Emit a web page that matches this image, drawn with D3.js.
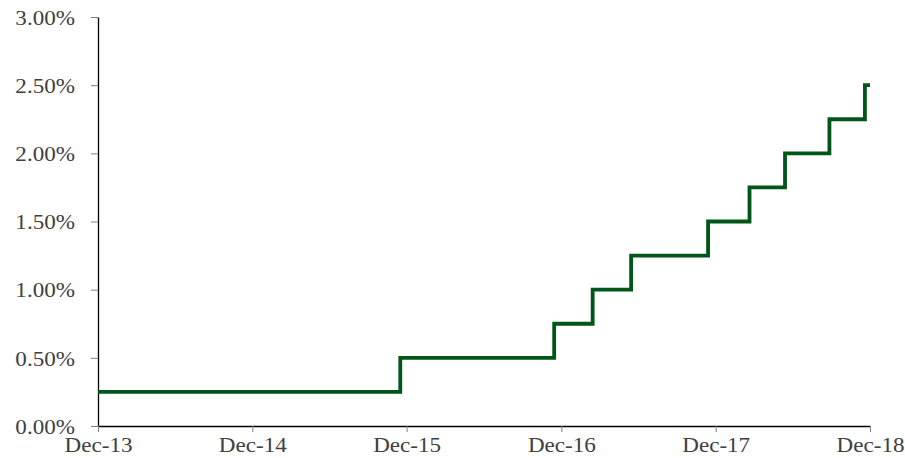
<!DOCTYPE html>
<html><head><meta charset="utf-8">
<script src="https://cdn.jsdelivr.net/npm/d3@7"></script>
<style>body{margin:0;background:#fff}svg{display:block}</style>
</head><body>
<svg id="c" width="905" height="458"></svg>
<script>
// Step-change dates and target rate (%) after each change
const changeDates = ["2013-12-31","2015-12-16","2016-12-14","2017-03-15","2017-06-14","2017-12-13","2018-03-21","2018-06-13","2018-09-26","2018-12-19","2018-12-31"];
const rates = [0.25,0.50,0.75,1.00,1.25,1.50,1.75,2.00,2.25,2.50,2.50];
const xTickDates = ["2013-12-31","2014-12-31","2015-12-31","2016-12-31","2017-12-31","2018-12-31"];
const xTickLabels = ["Dec-13","Dec-14","Dec-15","Dec-16","Dec-17","Dec-18"];
const yTicks = [0,0.5,1,1.5,2,2.5,3];

const parse = d3.utcParse("%Y-%m-%d");
const data = changeDates.map((d,i)=>({date:parse(d), v:rates[i]}));
const tickDates = xTickDates.map(parse);

const svg = d3.select("#c");
const m = {left:98, right:870, top:17, bottom:426};
const x = d3.scaleUtc().domain([tickDates[0], tickDates[tickDates.length-1]]).range([m.left, m.right]);
const y = d3.scaleLinear().domain([0,3]).range([m.bottom, m.top]);
const sx = 1.05;
const font = "'Liberation Serif','Times New Roman',serif";

const yAxis = svg.append("g").attr("transform",`translate(${m.left},0)`)
  .call(d3.axisLeft(y).tickValues(yTicks).tickSize(7).tickSizeOuter(0).tickPadding(16).tickFormat(d=>d3.format(".2f")(d)+"%"));
const xAxis = svg.append("g").attr("transform",`translate(0,${m.bottom})`)
  .call(d3.axisBottom(x).tickValues(tickDates).tickSize(6).tickSizeOuter(0).tickFormat((d,i)=>xTickLabels[i]));

[yAxis,xAxis].forEach(g=>{
  g.select(".domain").attr("stroke","#000").attr("stroke-width",1.3);
  g.selectAll(".tick line").attr("stroke","#808080").attr("stroke-width",1);
  g.selectAll(".tick text").attr("fill","#404040").attr("font-family",font).attr("font-size",22);
});
yAxis.selectAll(".tick text").attr("x",-23/sx).attr("dy","0.33em").attr("transform",`scale(${sx},1)`);
xAxis.selectAll(".tick text").attr("y",26.5).attr("dy",0).attr("transform",`scale(${sx},1)`);

const line = d3.line().curve(d3.curveStepAfter).x(d=>x(d.date)).y(d=>y(d.v));
svg.append("path").datum(data).attr("d",line).attr("fill","none")
  .attr("stroke","#005518").attr("stroke-width",3.8).attr("stroke-linejoin","miter");
</script>
</body></html>
